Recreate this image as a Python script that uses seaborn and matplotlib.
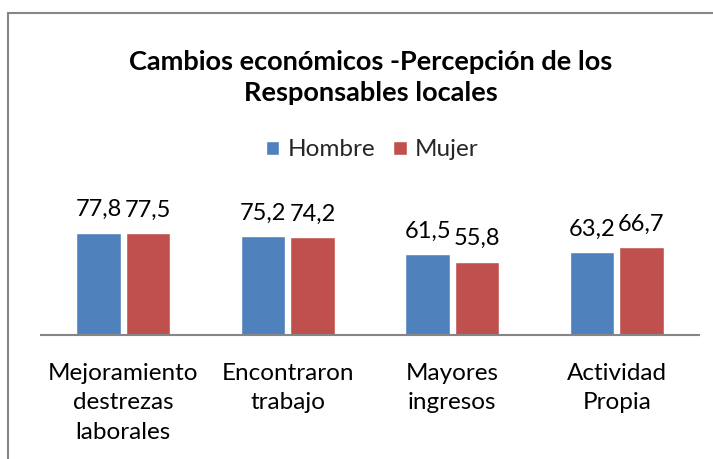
import matplotlib
matplotlib.use("Agg")
import matplotlib.pyplot as plt
import seaborn as sns
import pandas as pd
from matplotlib.patches import Rectangle, Patch

categories = ["Mejoramiento\ndestrezas\nlaborales", "Encontraron\ntrabajo", "Mayores\ningresos", "Actividad\nPropia"]
hombre = [77.8, 75.2, 61.5, 63.2]
mujer = [77.5, 74.2, 55.8, 66.7]
series = ["Hombre", "Mujer"]
title_lines = ["Cambios económicos -Percepción de los", "Responsables locales"]
colors = ["#4F81BD", "#C0504D"]

df = pd.DataFrame({
    "cat": categories * 2,
    "val": hombre + mujer,
    "serie": [series[0]] * 4 + [series[1]] * 4,
})

sns.set_theme(style="white")
plt.rcParams["font.family"] = ["Lato", "DejaVu Sans"]

W, H = 713, 459
fig = plt.figure(figsize=(W / 100, H / 100), dpi=100)
ax = fig.add_axes([41 / W, (H - 335) / H, 658 / W, 131.5 / H])

sns.barplot(data=df, x="cat", y="val", hue="serie", palette=colors,
            width=0.6, gap=0.1, ax=ax, legend=False, saturation=1)
ax.set_ylim(0, 100)
ax.set_xlim(-0.5, 3.5)
for s in ["left", "right", "top"]:
    ax.spines[s].set_visible(False)
ax.spines["bottom"].set_color("#868686")
ax.spines["bottom"].set_linewidth(1.5)
ax.set_yticks([])
ax.set_xlabel("")
ax.set_ylabel("")
ax.tick_params(axis="x", length=0, pad=20, labelsize=17.5, colors="black")
for lab in ax.get_xticklabels():
    lab.set_linespacing(1.5)

for cont, vals in zip(ax.containers, [hombre, mujer]):
    ax.bar_label(cont, labels=[f"{v:.1f}".replace(".", ",") for v in vals],
                 padding=9, fontsize=17, color="black")

fig.text(0.520, 1 - 62 / H, title_lines[0], ha="center", va="center",
         fontsize=19.5, fontweight="bold", color="black")
fig.text(0.520, 1 - 93 / H, title_lines[1], ha="center", va="center",
         fontsize=19.5, fontweight="bold", color="black")

handles = [Patch(facecolor=c, label=s) for c, s in zip(colors, series)]
fig.legend(handles=handles, loc="center", bbox_to_anchor=(0.522, 1 - 150 / H),
           ncol=2, frameon=False, fontsize=17.5, handlelength=0.55, handleheight=0.55,
           handletextpad=0.35, columnspacing=0.75)

fig.patches.append(Rectangle((8 / W, -0.1), 1.2, 1.1 - 13 / H, transform=fig.transFigure,
                             fill=False, edgecolor="#868686", linewidth=1.5))

fig.savefig("out.png", dpi=100)
